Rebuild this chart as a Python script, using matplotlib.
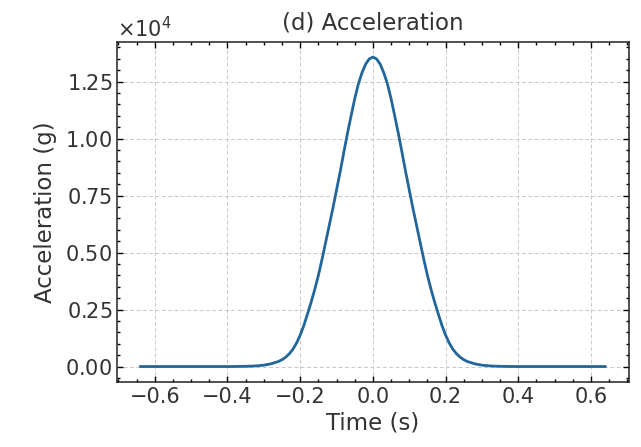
import numpy as np
import matplotlib
matplotlib.use("Agg")
import matplotlib.pyplot as plt
from matplotlib.ticker import AutoMinorLocator, ScalarFormatter

# values (time in s, acceleration in g)
t_half = [0.00, 0.01, 0.02, 0.03, 0.04, 0.05, 0.06, 0.07, 0.08, 0.09,
          0.10, 0.11, 0.12, 0.13, 0.14, 0.15, 0.16, 0.17, 0.18, 0.19,
          0.20, 0.21, 0.22, 0.23, 0.24, 0.25, 0.26, 0.28, 0.30, 0.32,
          0.34, 0.36, 0.38, 0.40, 0.44, 0.48, 0.52, 0.56, 0.60, 0.64]
acc_half = [13580, 13500, 13270, 12890, 12400, 11750, 11000, 10230, 9400, 8550,
            7750, 6950, 6200, 5450, 4700, 4000, 3380, 2820, 2300, 1800,
            1380, 1030, 760, 560, 410, 300, 220, 120, 60, 30,
            14, 6, 2, 0, 0, 0, 0, 0, 0, 0]

# the pulse is symmetric around t = 0
time = [-v for v in t_half[:0:-1]] + t_half
acc = acc_half[:0:-1] + acc_half

title = "(d) Acceleration"
xlabel = "Time (s)"
ylabel = "Acceleration (g)"

plt.rcParams["font.family"] = ["DejaVu Sans"]

fig = plt.figure(figsize=(6.41, 4.47), dpi=100)
ax = fig.add_axes([0.1825, 0.1454, 0.7985, 0.7616])

ax.plot(time, acc, color="#21679b", linewidth=2.0, solid_capstyle="round")

ax.set_title(title, fontsize=16.5, color="#333333", pad=9)
ax.set_xlabel(xlabel, fontsize=16.5, color="#333333", labelpad=3)
ax.set_ylabel(ylabel, fontsize=16.5, color="#333333", labelpad=6)

fmt = ScalarFormatter(useMathText=True)
fmt.set_powerlimits((0, 0))
ax.yaxis.set_major_formatter(fmt)
ax.yaxis.get_offset_text().set_fontsize(15)
ax.yaxis.get_offset_text().set_color("#333333")

ax.set_xticks([-0.6, -0.4, -0.2, 0.0, 0.2, 0.4, 0.6])
ax.set_yticks([0, 2500, 5000, 7500, 10000, 12500])
ax.xaxis.set_minor_locator(AutoMinorLocator(4))
ax.yaxis.set_minor_locator(AutoMinorLocator(5))

ax.tick_params(which="both", direction="in", top=True, right=True,
               labelsize=15, labelcolor="#333333", width=1.0)
ax.tick_params(which="major", length=4.5)
ax.tick_params(which="minor", length=2.5)

for s in ax.spines.values():
    s.set_linewidth(1.1)
    s.set_color("#222222")

ax.grid(True, which="major", linestyle=(0, (4, 2.5)), color="#c8c8c8", linewidth=0.7)

fig.savefig("out.png", dpi=100)
